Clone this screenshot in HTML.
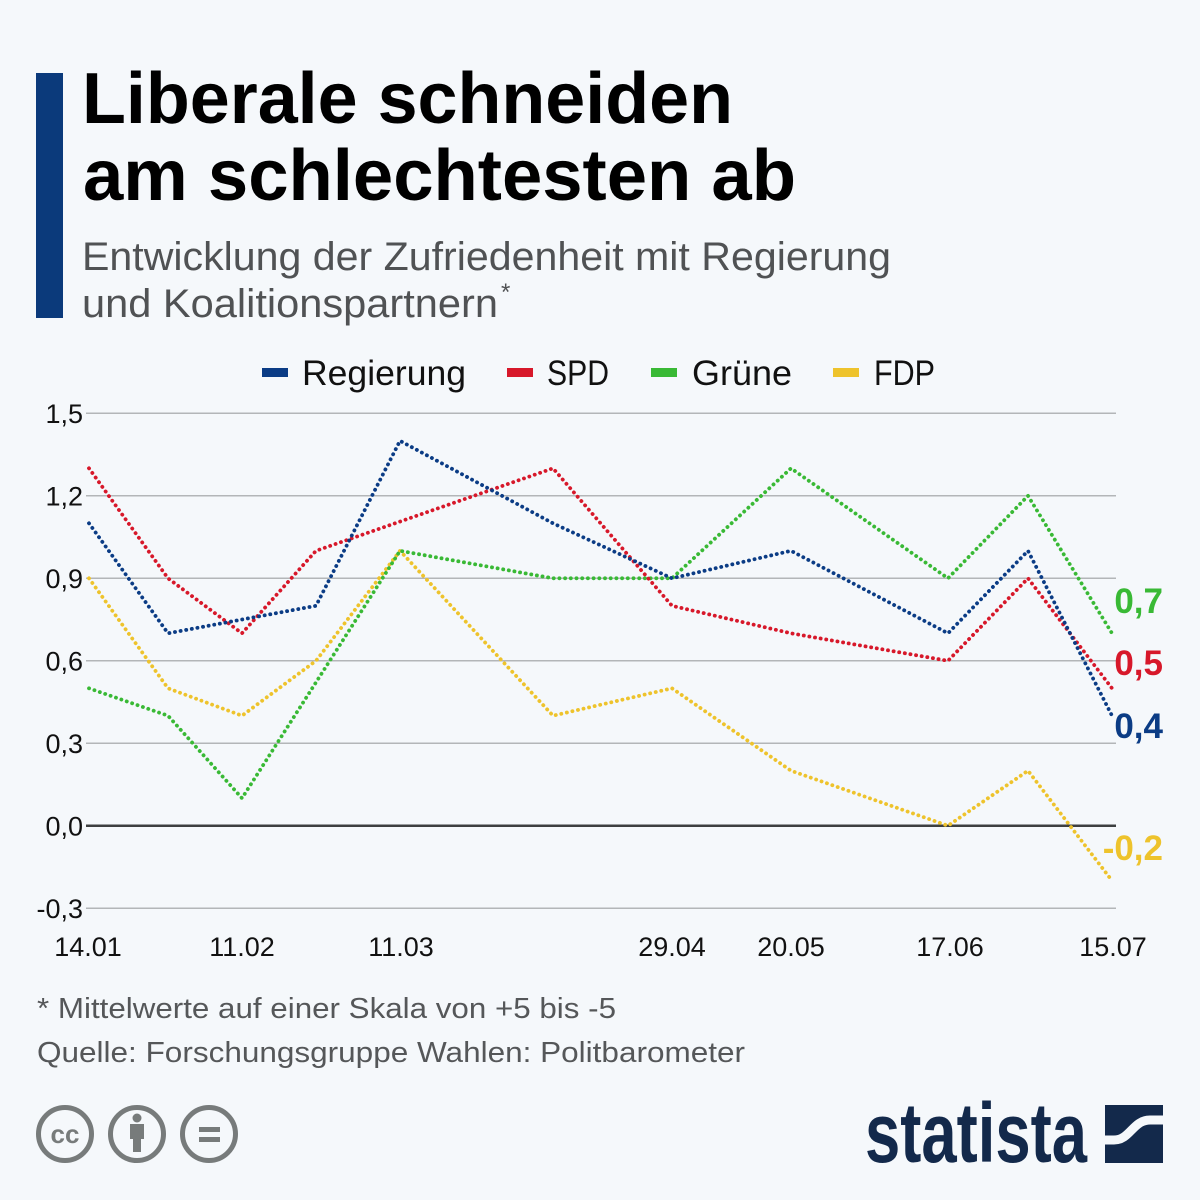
<!DOCTYPE html>
<html>
<head>
<meta charset="utf-8">
<style>
  html,body{margin:0;padding:0;background:#f5f8fb;}
  svg{display:block;}
  text{font-family:"Liberation Sans",sans-serif;}
</style>
</head>
<body>
<svg width="1200" height="1200" viewBox="0 0 1200 1200" xmlns="http://www.w3.org/2000/svg">
  <rect x="0" y="0" width="1200" height="1200" fill="#f5f8fb"/>
  <!-- header bar -->
  <rect x="36" y="73" width="27" height="245" fill="#0b3a7b"/>
  <!-- title -->
  <text x="82" y="123" font-size="72" font-weight="bold" fill="#000" textLength="651" lengthAdjust="spacingAndGlyphs">Liberale schneiden</text>
  <text x="83" y="200" font-size="72" font-weight="bold" fill="#000" textLength="713" lengthAdjust="spacingAndGlyphs">am schlechtesten ab</text>
  <!-- subtitle -->
  <text x="82" y="270" font-size="40" fill="#505254" textLength="809" lengthAdjust="spacingAndGlyphs">Entwicklung der Zufriedenheit mit Regierung</text>
  <text x="82" y="317" font-size="40" fill="#505254" textLength="416" lengthAdjust="spacingAndGlyphs">und Koalitionspartnern</text>
  <text x="501" y="300" font-size="24" fill="#505254">*</text>

  <!-- legend -->
  <rect x="262" y="368" width="26" height="9" fill="#0b3c85"/>
  <text x="302" y="385" font-size="35" fill="#111" textLength="164" lengthAdjust="spacingAndGlyphs">Regierung</text>
  <rect x="507" y="368" width="26" height="9" fill="#d7182a"/>
  <text x="547" y="385" font-size="35" fill="#111" textLength="62" lengthAdjust="spacingAndGlyphs">SPD</text>
  <rect x="651" y="368" width="26" height="9" fill="#39b935"/>
  <text x="692" y="385" font-size="35" fill="#111" textLength="100" lengthAdjust="spacingAndGlyphs">Grüne</text>
  <rect x="833" y="368" width="26" height="9" fill="#eec32c"/>
  <text x="874" y="385" font-size="35" fill="#111" textLength="61" lengthAdjust="spacingAndGlyphs">FDP</text>

  <!-- grid -->
  <g stroke="#b3b6b8" stroke-width="1.5">
    <line x1="86" y1="413.3" x2="1116" y2="413.3"/>
    <line x1="86" y1="495.8" x2="1116" y2="495.8"/>
    <line x1="86" y1="578.3" x2="1116" y2="578.3"/>
    <line x1="86" y1="660.8" x2="1116" y2="660.8"/>
    <line x1="86" y1="743.2" x2="1116" y2="743.2"/>
    <line x1="86" y1="908.2" x2="1116" y2="908.2"/>
  </g>
  <line x1="86" y1="825.7" x2="1116" y2="825.7" stroke="#3d3f40" stroke-width="2.5"/>

  <!-- y labels -->
  <g font-size="27" fill="#111" text-anchor="end">
    <text x="83" y="423">1,5</text>
    <text x="83" y="505.5">1,2</text>
    <text x="83" y="588">0,9</text>
    <text x="83" y="670.5">0,6</text>
    <text x="83" y="753">0,3</text>
    <text x="83" y="835.5">0,0</text>
    <text x="83" y="918">-0,3</text>
  </g>
  <!-- x labels -->
  <g font-size="27" fill="#111" text-anchor="middle">
    <text x="88" y="956">14.01</text>
    <text x="242" y="956">11.02</text>
    <text x="401" y="956">11.03</text>
    <text x="672" y="956">29.04</text>
    <text x="791" y="956">20.05</text>
    <text x="950" y="956">17.06</text>
    <text x="1113" y="956">15.07</text>
  </g>

  <!-- series -->
  <g fill="none" stroke-width="3.8" stroke-linecap="round" stroke-linejoin="round" stroke-dasharray="0.1 5.6">
    <polyline stroke="#eec32c" points="89,578.3 168,688.3 242,715.7 316,660.8 400,550.8 553,715.7 672,688.3 791,770.7 948,825.7 1028,770.7 1112,880.7"/>
    <polyline stroke="#39b935" points="89,688.3 168,715.7 242,798.2 400,550.8 553,578.3 672,578.3 791,468.3 948,578.3 1028,495.8 1112,633.3"/>
    <polyline stroke="#d7182a" points="89,468.3 168,578.3 242,633.3 316,550.8 553,468.3 672,605.8 791,633.3 948,660.8 1028,578.3 1112,688.3"/>
    <polyline stroke="#0b3c85" points="89,523.3 168,633.3 242,619.5 316,605.8 400,440.8 553,523.3 672,578.3 791,550.8 948,633.3 1028,550.8 1112,715.7"/>
  </g>

  <!-- end labels -->
  <g font-size="35" font-weight="bold" text-anchor="end">
    <text x="1163" y="613" fill="#39b935">0,7</text>
    <text x="1163" y="675" fill="#d7182a">0,5</text>
    <text x="1163" y="738" fill="#0b3c85">0,4</text>
    <text x="1163" y="860" fill="#eec32c">-0,2</text>
  </g>

  <!-- footer -->
  <text x="37" y="1018" font-size="29" fill="#555759" textLength="579" lengthAdjust="spacingAndGlyphs">* Mittelwerte auf einer Skala von +5 bis -5</text>
  <text x="37" y="1062" font-size="29" fill="#555759" textLength="708" lengthAdjust="spacingAndGlyphs">Quelle: Forschungsgruppe Wahlen: Politbarometer</text>

  <!-- CC icons -->
  <g stroke="#777b7b" stroke-width="5" fill="none">
    <circle cx="65" cy="1134" r="26.5"/>
    <circle cx="137" cy="1134" r="26.5"/>
    <circle cx="209" cy="1134" r="26.5"/>
  </g>
  <text x="65" y="1143" font-size="26" font-weight="bold" fill="#777b7b" text-anchor="middle">cc</text>
  <g fill="#777b7b">
    <circle cx="137" cy="1118" r="4.5"/>
    <rect x="130" y="1124" width="14" height="15"/>
    <rect x="133" y="1136" width="8" height="16"/>
    <rect x="199" y="1127" width="21" height="5"/>
    <rect x="199" y="1137" width="21" height="5"/>
  </g>

  <!-- statista logo -->
  <text x="865" y="1162" font-size="84" font-weight="bold" fill="#13294b" textLength="222" lengthAdjust="spacingAndGlyphs">statista</text>
  <rect x="1105" y="1105" width="58" height="58" fill="#13294b"/>
  <path d="M1103,1140 L1114,1140 C1130,1140 1133,1120 1150,1120 L1165,1120" stroke="#f5f8fb" stroke-width="9" fill="none"/>
</svg>
</body>
</html>
